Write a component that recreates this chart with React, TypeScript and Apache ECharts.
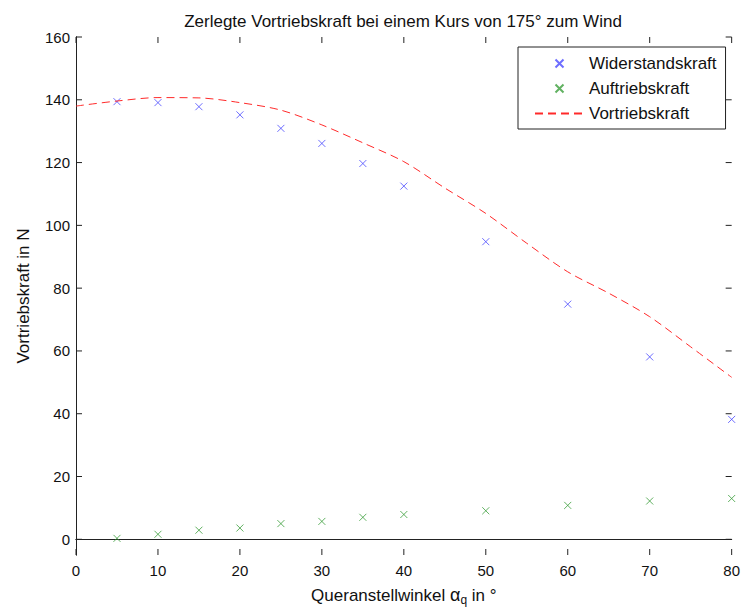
import React, { useEffect, useRef } from "react";
import * as echarts from "echarts";

const angles = [5, 10, 15, 20, 25, 30, 35, 40, 50, 60, 70, 80];
const widerstand = [139.4, 139.1, 137.8, 135.2, 130.9, 126.1, 119.7, 112.5, 94.8, 74.9, 58.1, 38.2];
const auftrieb = [0.3, 1.6, 2.9, 3.6, 5.0, 5.7, 7.0, 7.9, 9.1, 10.8, 12.2, 13.0];
const vortriebX = [0, 5, 10, 15, 20, 25, 30, 35, 40, 45, 50, 55, 60, 65, 70, 75, 80];
const vortriebY = [138.0, 139.6, 140.7, 140.6, 139.1, 136.7, 132.0, 126.3, 120.3, 111.9, 103.8, 94.3, 85.2, 78.4, 70.9, 61.3, 51.6];
const xTicks = [0, 10, 20, 30, 40, 50, 60, 70, 80];
const yTicks = [0, 20, 40, 60, 80, 100, 120, 140, 160];

const X_MIN = 0;
const X_MAX = 80;
const Y_MIN = -5;
const Y_MAX = 160;

const FONT = "Liberation Sans";
const CROSS = "path://M0,0L10,10M10,0L0,10";
const AXIS_COLOR = "#222";
const TICK_LEN = 6;

export default function App() {
  const ref = useRef<HTMLDivElement>(null);
  useEffect(() => {
    document.body.style.margin = "0";
    const chart = echarts.init(ref.current!, null, { renderer: "svg" });
    const axisLine = () => ({ show: true, lineStyle: { color: AXIS_COLOR, width: 1 } });
    const tickLine = (x1: number, y1: number, x2: number, y2: number) => ({
      type: "line",
      shape: { x1, y1, x2, y2 },
      style: { stroke: AXIS_COLOR, lineWidth: 1 },
    });
    chart.setOption({
      animation: false,
      backgroundColor: "#fff",
      textStyle: { fontFamily: FONT },
      title: {
        text: "Zerlegte Vortriebskraft bei einem Kurs von 175° zum Wind",
        left: 398,
        textAlign: "center",
        top: 8,
        textStyle: { fontFamily: FONT, fontSize: 17, fontWeight: "normal", color: "#111" },
      },
      grid: { left: 76, top: 37, width: 659, height: 518, containLabel: false },
      legend: {
        orient: "vertical",
        left: 518,
        top: 47,
        padding: [8, 9, 7, 16],
        itemGap: 8,
        itemWidth: 49,
        itemHeight: 8,
        borderColor: AXIS_COLOR,
        borderWidth: 1,
        backgroundColor: "#fff",
        textStyle: { fontFamily: FONT, fontSize: 17, color: "#111" },
        data: [
          { name: "Widerstandskraft" },
          { name: "Auftriebskraft" },
          { name: "Vortriebskraft", itemStyle: { opacity: 0 } },
        ],
      },
      xAxis: [
        {
          type: "value",
          min: X_MIN,
          max: X_MAX,
          interval: 10,
          position: "bottom",
          axisLine: axisLine(),
          axisTick: { show: false },
          splitLine: { show: false },
          axisLabel: { fontFamily: FONT, fontSize: 15, color: "#111", margin: 8 },
          name: "Queranstellwinkel {g|α}{s|q} in °",
          nameLocation: "middle",
          nameGap: 29,
          nameTextStyle: {
            fontFamily: FONT,
            fontSize: 17,
            color: "#111",
            rich: {
              g: { fontFamily: FONT, fontSize: 18, color: "#111" },
              s: { fontFamily: FONT, fontSize: 12, color: "#111", padding: [10, 0, 0, 0], verticalAlign: "bottom" },
            },
          },
        },
        {
          type: "value",
          min: X_MIN,
          max: X_MAX,
          interval: 10,
          position: "top",
          axisLine: axisLine(),
          axisTick: { show: false },
          splitLine: { show: false },
          axisLabel: { show: false },
        },
      ],
      yAxis: [
        {
          type: "value",
          min: Y_MIN,
          max: Y_MAX,
          position: "left",
          axisLine: axisLine(),
          axisTick: { show: false },
          splitLine: { show: false },
          axisLabel: { fontFamily: FONT, fontSize: 15, color: "#111", margin: 6, customValues: yTicks },
          name: "Vortriebskraft in N",
          nameLocation: "middle",
          nameGap: 44,
          nameTextStyle: { fontFamily: FONT, fontSize: 17, color: "#111" },
        },
        {
          type: "value",
          min: Y_MIN,
          max: Y_MAX,
          position: "right",
          axisLine: axisLine(),
          axisTick: { show: false },
          splitLine: { show: false },
          axisLabel: { show: false },
        },
      ],
      series: [
        {
          name: "yTicks",
          type: "custom",
          silent: true,
          clip: false,
          encode: { x: 0, y: 1 },
          data: yTicks.map((v) => [X_MIN, v]),
          renderItem: (params: any, api: any) => {
            const p = api.coord([api.value(0), api.value(1)]);
            const cs = params.coordSys;
            return {
              type: "group",
              children: [
                tickLine(cs.x, p[1], cs.x + TICK_LEN, p[1]),
                tickLine(cs.x + cs.width - TICK_LEN, p[1], cs.x + cs.width, p[1]),
              ],
            };
          },
        },
        {
          name: "xTicks",
          type: "custom",
          silent: true,
          clip: false,
          encode: { x: 0, y: 1 },
          data: xTicks.map((v) => [v, Y_MIN]),
          renderItem: (params: any, api: any) => {
            const p = api.coord([api.value(0), api.value(1)]);
            const cs = params.coordSys;
            return {
              type: "group",
              children: [
                tickLine(p[0], cs.y + cs.height, p[0], cs.y + cs.height - TICK_LEN),
                tickLine(p[0], cs.y, p[0], cs.y + TICK_LEN),
              ],
            };
          },
        },
        {
          name: "Widerstandskraft",
          type: "scatter",
          symbol: CROSS,
          symbolSize: 7,
          itemStyle: { color: "transparent", borderColor: "#4a4aff", borderWidth: 1 },
          data: angles.map((a, i) => [a, widerstand[i]]),
        },
        {
          name: "Auftriebskraft",
          type: "scatter",
          symbol: CROSS,
          symbolSize: 7,
          itemStyle: { color: "transparent", borderColor: "#3a9e3a", borderWidth: 1 },
          data: angles.map((a, i) => [a, auftrieb[i]]),
        },
        {
          name: "Vortriebskraft",
          type: "line",
          smooth: 0.3,
          symbol: "none",
          showSymbol: false,
          itemStyle: { color: "#ff2a2a" },
          lineStyle: { color: "#ff2a2a", width: 1, type: [8, 5] },
          data: vortriebX.map((a, i) => [a, vortriebY[i]]),
        },
      ],
    });
    return () => chart.dispose();
  }, []);
  return <div ref={ref} style={{ width: 743, height: 612 }} />;
}
